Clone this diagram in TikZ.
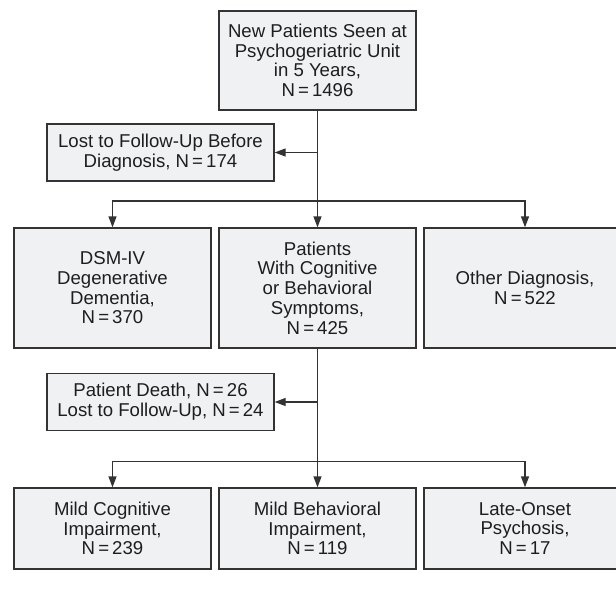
\documentclass[tikz,border=0pt]{standalone}
\usepackage{fontspec}
\setmainfont{Liberation Sans}
\usepackage{tikz}
\usetikzlibrary{arrows.meta,positioning}
\definecolor{boxfill}{HTML}{F0F1F3}
\definecolor{boxline}{HTML}{333333}
\definecolor{txt}{HTML}{1E1E1E}

\begin{document}
\begin{tikzpicture}[x=1pt,y=1pt,on grid,line width=1.3pt,draw=boxline,
    >={Triangle[length=11pt,width=8pt]},
    box/.style={draw=boxline,fill=boxfill,text=txt,align=center,inner sep=0pt,
      minimum width=197pt,font=\fontsize{18.6}{19.7}\selectfont},
    lostbox/.style={box,minimum width=227pt,minimum height=57pt},
    midbox/.style={box,minimum height=120pt},
    endbox/.style={box,minimum height=81pt}]
    \useasboundingbox (0,0) rectangle (616,-605);

    \node[box,minimum height=99pt] (new) at (317.5,-60.5) {New Patients Seen at\\Psychogeriatric Unit\\in 5 Years,\\N\,=\,1496};
    \node[lostbox] (lostdx) [below left = 92pt and 157pt of new] {Lost to Follow-Up Before\\Diagnosis, N\,=\,174};
    \coordinate[below = 140.5pt of new] (fork1);

    \node[midbox] (sympt) [below = 227.5pt of new] {Patients\\With Cognitive\\or Behavioral\\Symptoms,\\N\,=\,425};
    \node[midbox] (dementia) [left = 205pt of sympt] {DSM-IV\\Degenerative\\Dementia,\\N\,=\,370};
    \node[midbox,minimum width=202pt] (other) [right = 207.5pt of sympt] {Other Diagnosis,\\N\,=\,522};

    \node[lostbox] (lostfu) [below left = 114pt and 157pt of sympt] {Patient Death, N\,=\,26\\Lost to Follow-Up, N\,=\,24};
    \coordinate[below = 173.5pt of sympt] (fork2);

    \node[endbox] (mbi) [below = 240.5pt of sympt] {Mild Behavioral\\Impairment,\\N\,=\,119};
    \node[endbox] (mci) [left = 205pt of mbi] {Mild Cognitive\\Impairment,\\N\,=\,239};
    \node[endbox,minimum width=202pt] (lop) [right = 207.5pt of mbi] {Late-Onset\\Psychosis,\\N\,=\,17};

    \path[->]
    (new) edge (sympt)
    (lostdx -| new) edge (lostdx)
    (sympt) edge (mbi)
    (lostfu -| sympt) edge (lostfu);
    \draw[->] (fork1) -| (dementia);
    \draw[->] (fork1) -| (other);
    \draw[->] (fork2) -| (mci);
    \draw[->] (fork2) -| (lop);
\end{tikzpicture}
\end{document}
